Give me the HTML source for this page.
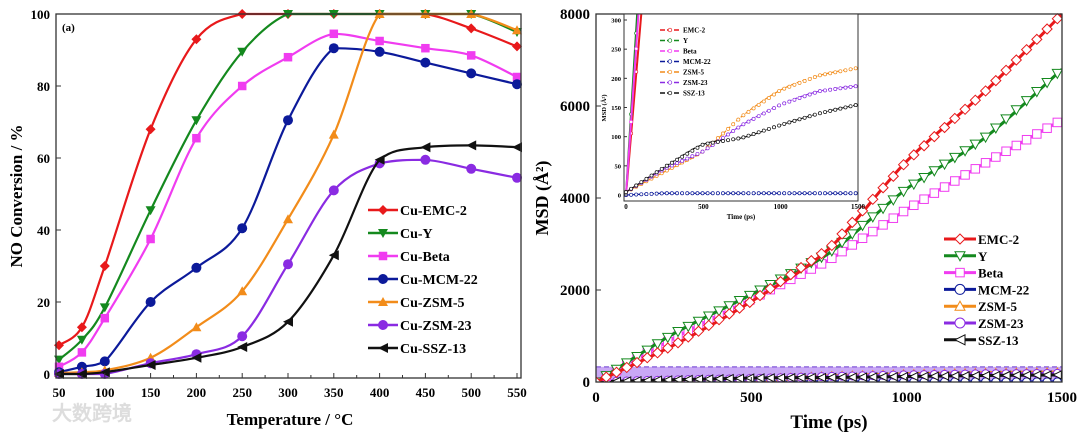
<!DOCTYPE html>
<html><head><meta charset="utf-8"><style>
body{margin:0;background:#fff;width:1080px;height:435px;overflow:hidden;font-family:"Liberation Serif",serif}
text{font-family:"Liberation Serif",serif;font-weight:bold}
</style></head><body>
<svg id="s" width="1080" height="435" viewBox="0 0 1080 435"></svg>
<script>
// ---------- Panel (a) data ----------
const temps=[50,75,100,150,200,250,300,350,400,450,500,550];
const convEMC=[8,13,30,68,93,100,100,100,100,100,96,91];
const convY=[4,9.5,18.5,45.5,70.5,89.5,100,100,100,100,100,95];
const convBeta=[2,6,15.5,37.5,65.5,80,88,94.5,92.5,90.5,88.5,82.5];
const convMCM=[0.5,2,3.5,20,29.5,40.5,70.5,90.5,89.5,86.5,83.5,80.5];
const convZSM5=[0.3,0.5,1,4.5,13,23,43,66.5,100,100,100,95.5];
const convZSM23=[0,0,0,3,5.5,10.5,30.5,51,58.5,59.5,57,54.5];
const convSSZ=[0,0,0.5,2.5,4.5,7.5,14.5,33,59.5,63,63.5,63];
const xTicksA=[50,100,150,200,250,300,350,400,450,500,550];
const yTicksA=[0,20,40,60,80,100];
const namesA=["Cu-EMC-2","Cu-Y","Cu-Beta","Cu-MCM-22","Cu-ZSM-5","Cu-ZSM-23","Cu-SSZ-13"];
// ---------- Panel (b) data ----------
const times=[0,250,500,750,1000,1250,1500];
const msdEMC=[0,800,1750,2900,4800,6300,8000];
const msdY=[0,1050,1900,2800,4200,5300,6800];
const msdBeta=[0,950,1800,2650,3750,4750,5700];
const msdMCM=[0,3,3,3,3,3,3];
const msdZSM5=[5,40,75,135,180,205,218];
const msdZSM23=[5,45,75,120,155,178,187];
const msdSSZ=[5,48,87,98,120,140,155];
const xTicksB=[0,500,1000,1500];
const yTicksB=[0,2000,4000,6000,8000];
const yTicksIn=[0,50,100,150,200,250,300];
const namesB=["EMC-2","Y","Beta","MCM-22","ZSM-5","ZSM-23","SSZ-13"];
const colors=["#e8191b","#14891e","#f03cf0","#0c1a9a","#f28c1a","#8a2be2","#111111"];

const S=document.getElementById('s');const NS="http://www.w3.org/2000/svg";
function el(t,a,p){const e=document.createElementNS(NS,t);for(const k in a)e.setAttribute(k,a[k]);(p||S).appendChild(e);return e;}
function lin(d0,d1,r0,r1){return v=>r0+(v-d0)*(r1-r0)/(d1-d0);}
function smooth(pts){let d=`M${pts[0][0]},${pts[0][1]}`;for(let i=0;i<pts.length-1;i++){const p0=pts[Math.max(0,i-1)],p1=pts[i],p2=pts[i+1],p3=pts[Math.min(pts.length-1,i+2)];
const lo=Math.min(p1[1],p2[1]),hi=Math.max(p1[1],p2[1]);const cl=v=>Math.max(lo,Math.min(hi,v));
d+=` C${p1[0]+(p2[0]-p0[0])/6},${cl(p1[1]+(p2[1]-p0[1])/6)} ${p2[0]-(p3[0]-p1[0])/6},${cl(p2[1]-(p3[1]-p1[1])/6)} ${p2[0]},${p2[1]}`;}return d;}
function interp(xs,ys,x){for(let i=0;i<xs.length-1;i++){if(x<=xs[i+1]){const t=(x-xs[i])/(xs[i+1]-xs[i]);return ys[i]+t*(ys[i+1]-ys[i]);}}return ys[ys.length-1];}
function marker(kind,x,y,c,r,fill,g){
 let e;
 if(kind==0)e=el('polygon',{points:`${x},${y-r} ${x+r},${y} ${x},${y+r} ${x-r},${y}`},g);
 else if(kind==1)e=el('polygon',{points:`${x-r},${y-r*0.8} ${x+r},${y-r*0.8} ${x},${y+r}`},g);
 else if(kind==2)e=el('rect',{x:x-r*0.85,y:y-r*0.85,width:r*1.7,height:r*1.7},g);
 else if(kind==3||kind==5)e=el('circle',{cx:x,cy:y,r:r},g);
 else if(kind==4)e=el('polygon',{points:`${x-r},${y+r*0.8} ${x+r},${y+r*0.8} ${x},${y-r}`},g);
 else e=el('polygon',{points:`${x-r},${y} ${x+r},${y-r} ${x+r},${y+r}`},g);
 e.setAttribute('fill',fill?c:'#fff');e.setAttribute('stroke',c);e.setAttribute('stroke-width',fill?0:1);return e;}

// ---------- Panel A ----------
const xa=lin(50,550,59,517), ya=lin(0,100,374,14);
const gA=el('g',{});
const seriesA=[convEMC,convY,convBeta,convMCM,convZSM5,convZSM23,convSSZ];
seriesA.forEach((vals,k)=>{
 const g=el('g',{},gA);
 const pts=temps.map((t,i)=>[xa(t),ya(vals[i])]);
 el('path',{d:smooth(pts),fill:'none',stroke:colors[k],'stroke-width':2.2},g);
 pts.forEach(p=>{const m=marker(k,p[0],p[1],colors[k],5,true,g);});
});
el('rect',{x:56,y:14,width:465,height:364,fill:'none',stroke:'#333','stroke-width':1.3},gA);
xTicksA.forEach(t=>{el('line',{x1:xa(t),x2:xa(t),y1:378,y2:373,stroke:'#333'},gA);const tx=el('text',{x:xa(t),y:397,'text-anchor':'middle','font-size':13},gA);tx.textContent=t;});
for(let t=75;t<550;t+=50)el('line',{x1:xa(t),x2:xa(t),y1:378,y2:375,stroke:'#333'},gA);
yTicksA.forEach(t=>{el('line',{x1:56,x2:61,y1:ya(t),y2:ya(t),stroke:'#333'},gA);const tx=el('text',{x:50,y:ya(t)+5,'text-anchor':'end','font-size':13},gA);tx.textContent=t;});
let t1=el('text',{x:290,y:425,'text-anchor':'middle','font-size':17},gA);t1.textContent='Temperature / °C';
let t2=el('text',{x:22,y:196,'text-anchor':'middle','font-size':17,transform:'rotate(-90 22 196)'},gA);t2.textContent='NO Conversion / %';
let t3=el('text',{x:62,y:31,'font-size':11},gA);t3.textContent='(a)';
namesA.forEach((n,k)=>{const y=210+k*23;const g=el('g',{},gA);
 el('line',{x1:368,x2:398,y1:y,y2:y,stroke:colors[k],'stroke-width':2.5},g);marker(k,383,y,colors[k],5,true,g);
 const tx=el('text',{x:400,y:y+5,'font-size':14},g);tx.textContent=n;});
let wm=el('text',{x:52,y:420,'font-size':20,fill:'#ddd','font-family':'"Noto Sans CJK SC",sans-serif'});wm.textContent='大数跨境';

// ---------- Panel B ----------
const xb=lin(0,1500,596,1062), yb=lin(0,8000,382,14);
const gB=el('g',{});
el('rect',{x:596,y:382-368*330/8000,width:466,height:368*330/8000,fill:'#c9a8f5'},gB);
el('line',{x1:596,x2:1062,y1:yb(330),y2:yb(330),stroke:'#6a3ad0','stroke-dasharray':'5,3'},gB);
const cpB=el('clipPath',{id:'bc'},gB);el('rect',{x:596,y:10,width:466,height:372},cpB);
const seriesB=[msdEMC,msdY,msdBeta,msdMCM,msdZSM5,msdZSM23,msdSSZ];
[3,4,5,6,2,1,0].forEach(k=>{const vals=seriesB[k];
 const g=el('g',{'clip-path':'url(#bc)'},gB);
 const pts=times.map((t,i)=>[xb(t),yb(vals[i])]);
 el('path',{d:smooth(pts),fill:'none',stroke:colors[k],'stroke-width':3},g);
 for(let t=0;t<=1500;t+=33){marker(k,xb(t),yb(interp(times,vals,t)),colors[k],k<3?5:4,false,g);}
});
el('rect',{x:596,y:14,width:466,height:368,fill:'none',stroke:'#333','stroke-width':1.3},gB);
xTicksB.forEach(t=>{el('line',{x1:xb(t),x2:xb(t),y1:382,y2:377,stroke:'#333'},gB);const tx=el('text',{x:xb(t),y:402,'text-anchor':'middle','font-size':15},gB);tx.textContent=t;});
yTicksB.forEach(t=>{el('line',{x1:596,x2:601,y1:yb(t),y2:yb(t),stroke:'#333'},gB);const tx=el('text',{x:590,y:yb(t)+5,'text-anchor':'end','font-size':15},gB);tx.textContent=t;});
let t4=el('text',{x:829,y:428,'text-anchor':'middle','font-size':19},gB);t4.textContent='Time (ps)';
let t5=el('text',{x:548,y:198,'text-anchor':'middle','font-size':18,transform:'rotate(-90 548 198)'},gB);t5.textContent='MSD (Å²)';
namesB.forEach((n,k)=>{const y=239+k*16.8;const g=el('g',{},gB);
 el('line',{x1:944,x2:976,y1:y,y2:y,stroke:colors[k],'stroke-width':3},g);marker(k,960,y,colors[k],5,false,g);
 const tx=el('text',{x:978,y:y+5,'font-size':13},g);tx.textContent=n;});

// ---------- Inset ----------
const xi=lin(0,1500,626,858), yi=lin(0,300,195,20);
const gI=el('g',{});
el('rect',{x:624,y:14,width:234,height:187,fill:'#fff'},gI);
const cp=el('clipPath',{id:'ic'},gI);el('rect',{x:624,y:14,width:234,height:187},cp);
const gc=el('g',{'clip-path':'url(#ic)'},gI);
[0,1,2,3,4,5,6].forEach(k=>{const vals=seriesB[k];
 const pts=times.map((t,i)=>[xi(t),yi(vals[i])]);
 el('path',{d:smooth(pts),fill:'none',stroke:colors[k],'stroke-width':k<3?2:1.2,'stroke-dasharray':k<3?'':'4,2'},gc);
 for(let t=0;t<=1500;t+=33){const v=interp(times,vals,t);if(v<=310)el('circle',{cx:xi(t),cy:yi(v),r:1.6,fill:'#fff',stroke:colors[k],'stroke-width':0.7},gc);}
});
el('rect',{x:624,y:14,width:234,height:187,fill:'none',stroke:'#333'},gI);
[0,500,1000,1500].forEach(t=>{const tx=el('text',{x:xi(t),y:209,'text-anchor':'middle','font-size':7},gI);tx.textContent=t;});
yTicksIn.forEach(t=>{el('line',{x1:624,x2:627,y1:yi(t),y2:yi(t),stroke:'#333'},gI);const tx=el('text',{x:621,y:yi(t)+2.5,'text-anchor':'end','font-size':6.5},gI);tx.textContent=t;});
let t6=el('text',{x:741,y:219,'text-anchor':'middle','font-size':7},gI);t6.textContent='Time (ps)';
let t7=el('text',{x:606,y:108,'text-anchor':'middle','font-size':6.5,transform:'rotate(-90 606 108)'},gI);t7.textContent='MSD (Å²)';
namesB.forEach((n,k)=>{const y=30+k*10.5;el('line',{x1:660,x2:681,y1:y,y2:y,stroke:colors[k],'stroke-width':1.5,'stroke-dasharray':'5,2'},gI);
 el('circle',{cx:670,cy:y,r:1.8,fill:'#fff',stroke:colors[k],'stroke-width':0.7},gI);
 const tx=el('text',{x:683,y:y+2.5,'font-size':7},gI);tx.textContent=n;});
</script>
</body></html>
